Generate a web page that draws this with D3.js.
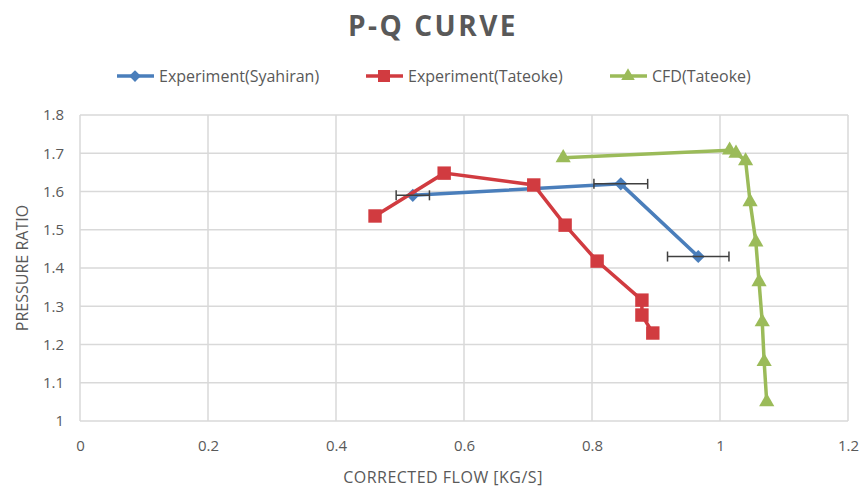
<!DOCTYPE html>
<html>
<head>
<meta charset="utf-8">
<script src="https://cdn.jsdelivr.net/npm/d3@7"></script>
<style>
  body { margin: 0; background: #fff; }
  text { font-family: "Open Sans", sans-serif; fill: #595959; }
</style>
</head>
<body>
<div id="chart"></div>
<script>
/**
 * Data
 */
const syahiranFlow = [0.52, 0.845, 0.966];
const syahiranRatio = [1.59, 1.62, 1.43];
const syahiranFlowErr = [0.026, 0.042, 0.048];

const tateokeFlow = [0.461, 0.569, 0.709, 0.758, 0.808, 0.878, 0.878, 0.895];
const tateokeRatio = [1.536, 1.648, 1.617, 1.512, 1.418, 1.316, 1.277, 1.230];

const cfdFlow = [0.755, 1.015, 1.025, 1.04, 1.047, 1.056, 1.061, 1.066, 1.069, 1.073];
const cfdRatio = [1.688, 1.708, 1.70, 1.68, 1.573, 1.468, 1.364, 1.259, 1.155, 1.050];

const xTicks = [0, 0.2, 0.4, 0.6, 0.8, 1, 1.2];
const yTicks = [1, 1.1, 1.2, 1.3, 1.4, 1.5, 1.6, 1.7, 1.8];

const seriesNames = ["Experiment(Syahiran)", "Experiment(Tateoke)", "CFD(Tateoke)"];
const seriesColors = ["#4a7ebb", "#d13b40", "#9bbb59"];

/**
 * Basic settings
 */
const width = 861;
const height = 488;
const margin = { top: 115, right: 13, bottom: 67, left: 80 };

const svg = d3.select("#chart")
  .append("svg")
  .attr("width", width)
  .attr("height", height);

const xScale = d3.scaleLinear()
  .domain([0, 1.2])
  .range([margin.left, width - margin.right]);

const yScale = d3.scaleLinear()
  .domain([1, 1.8])
  .range([height - margin.bottom, margin.top]);

/**
 * Gridlines
 */
svg.append("g")
  .selectAll("line")
  .data(yTicks)
  .enter()
  .append("line")
  .attr("x1", xScale(0))
  .attr("x2", xScale(1.2))
  .attr("y1", d => yScale(d))
  .attr("y2", d => yScale(d))
  .attr("stroke", "#d9d9d9")
  .attr("stroke-width", 1.5);

svg.append("g")
  .selectAll("line")
  .data(xTicks)
  .enter()
  .append("line")
  .attr("x1", d => xScale(d))
  .attr("x2", d => xScale(d))
  .attr("y1", yScale(1))
  .attr("y2", yScale(1.8))
  .attr("stroke", "#d9d9d9")
  .attr("stroke-width", 1.5);

/**
 * Axes (labels only)
 */
const xAxis = d3.axisBottom(xScale)
  .tickValues(xTicks)
  .tickSize(0)
  .tickPadding(19)
  .tickFormat(d3.format("~g"));

svg.append("g")
  .attr("transform", "translate(0," + yScale(1) + ")")
  .call(xAxis)
  .call(g => g.select(".domain").remove())
  .selectAll("text")
  .style("font-size", "15px")
  .attr("fill", "#595959");

const yAxis = d3.axisLeft(yScale)
  .tickValues(yTicks)
  .tickSize(0)
  .tickPadding(16)
  .tickFormat(d3.format("~g"));

svg.append("g")
  .attr("transform", "translate(" + xScale(0) + ",0)")
  .call(yAxis)
  .call(g => g.select(".domain").remove())
  .selectAll("text")
  .style("font-size", "15px")
  .attr("fill", "#595959");

/**
 * Titles
 */
svg.append("text")
  .attr("x", 433)
  .attr("y", 36)
  .attr("text-anchor", "middle")
  .style("font-size", "28px")
  .style("font-weight", "bold")
  .style("letter-spacing", "2.5px")
  .text("P-Q CURVE");

svg.append("text")
  .attr("x", 443)
  .attr("y", 483)
  .attr("text-anchor", "middle")
  .style("font-size", "16px")
  .style("letter-spacing", "0.5px")
  .text("CORRECTED FLOW [KG/S]");

svg.append("text")
  .attr("transform", "translate(28,268) rotate(-90)")
  .attr("text-anchor", "middle")
  .style("font-size", "16px")
  .text("PRESSURE RATIO");

/**
 * Series
 */
const line = d3.line()
  .x(d => xScale(d[0]))
  .y(d => yScale(d[1]));

const series = [
  { pts: d3.zip(syahiranFlow, syahiranRatio), symbol: d3.symbolDiamond2, size: 110 },
  { pts: d3.zip(tateokeFlow, tateokeRatio), symbol: d3.symbolSquare, size: 180 },
  { pts: d3.zip(cfdFlow, cfdRatio), symbol: d3.symbolTriangle, size: 100 }
];

series.forEach((s, i) => {
  svg.append("path")
    .datum(s.pts)
    .attr("d", line)
    .attr("fill", "none")
    .attr("stroke", seriesColors[i])
    .attr("stroke-width", 3.5);

  svg.append("g")
    .selectAll("path")
    .data(s.pts)
    .enter()
    .append("path")
    .attr("transform", d => "translate(" + xScale(d[0]) + "," + yScale(d[1]) + ")")
    .attr("d", d3.symbol().type(s.symbol).size(s.size))
    .attr("fill", seriesColors[i]);
});

/**
 * Error bars (Syahiran)
 */
const errData = d3.zip(syahiranFlow, syahiranRatio, syahiranFlowErr);
const errG = svg.append("g")
  .attr("stroke", "#404040")
  .attr("stroke-width", 1.5);

errG.selectAll("line.bar")
  .data(errData)
  .enter()
  .append("line")
  .attr("x1", d => xScale(d[0] - d[2]))
  .attr("x2", d => xScale(d[0] + d[2]))
  .attr("y1", d => yScale(d[1]))
  .attr("y2", d => yScale(d[1]));

[-1, 1].forEach(sign => {
  errG.selectAll(null)
    .data(errData)
    .enter()
    .append("line")
    .attr("x1", d => xScale(d[0] + sign * d[2]))
    .attr("x2", d => xScale(d[0] + sign * d[2]))
    .attr("y1", d => yScale(d[1]) - 5)
    .attr("y2", d => yScale(d[1]) + 5);
});

/**
 * Legend
 */
const legendX = [117, 366, 610];
const legend = svg.append("g");
seriesNames.forEach((name, i) => {
  const g = legend.append("g").attr("transform", "translate(" + legendX[i] + ",76)");
  g.append("line")
    .attr("x1", 0).attr("x2", 37)
    .attr("stroke", seriesColors[i])
    .attr("stroke-width", 3.5);
  g.append("path")
    .attr("transform", "translate(18,0)")
    .attr("d", d3.symbol().type(series[i].symbol).size(series[i].size * 0.8))
    .attr("fill", seriesColors[i]);
  g.append("text")
    .attr("x", 42)
    .attr("y", 6)
    .style("font-size", "16px")
    .text(name);
});
</script>
</body>
</html>
